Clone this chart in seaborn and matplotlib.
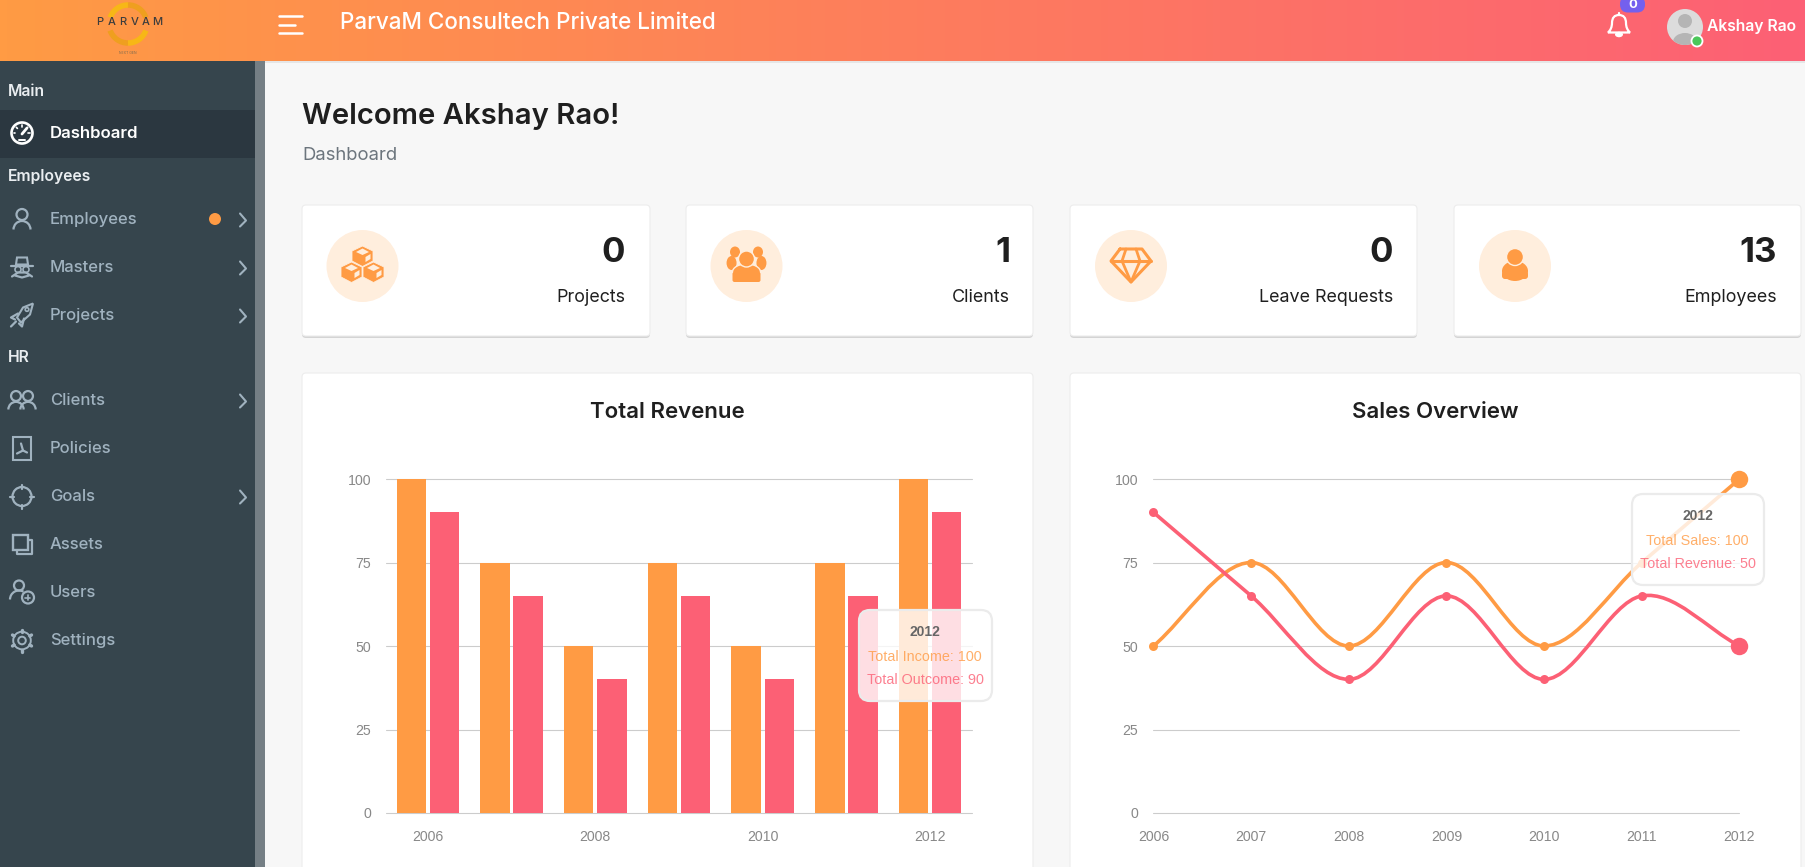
import matplotlib
matplotlib.use("Agg")
import matplotlib.pyplot as plt
import numpy as np
import pandas as pd
import seaborn as sns
from matplotlib.patches import Arc, Circle, Ellipse, FancyBboxPatch, PathPatch, Polygon, Rectangle
from matplotlib.path import Path

sns.set_theme(style="white")
plt.rcParams["font.family"] = ["Inter", "DejaVu Sans"]
plt.rcParams["patch.force_edgecolor"] = False

ORANGE = "#ff9b44"
PINK = "#fc6075"
SIDEBAR = "#36454d"
NAV_TEXT = "#a0b2bf"
ICON_BG = "#ffeedd"
W, H = 1806, 867

# chart data
years = ["2006", "2007", "2008", "2009", "2010", "2011", "2012"]
income = [100, 75, 50, 75, 50, 75, 100]
outcome = [90, 65, 40, 65, 40, 65, 90]
sales = [50, 75, 50, 75, 50, 75, 100]
revenue = [90, 65, 40, 65, 40, 65, 50]
y_ticks = [0, 25, 50, 75, 100]

# page text
company = "ParvaM Consultech Private Limited"
user_name = "Akshay Rao"
card_labels = ["Projects", "Clients", "Leave Requests", "Employees"]
card_counts = ["0", "1", "0", "13"]
nav_headers = [("Main", 92), ("Employees", 177), ("HR", 358)]
nav_items = ["Employees", "Masters", "Projects", "Clients", "Policies", "Goals", "Assets", "Users", "Settings"]
nav_rows = [219.5, 267.5, 315.5, 400.5, 448.5, 496.5, 544.5, 592.5, 640.5]
nav_chevrons = ["Employees", "Masters", "Projects", "Clients", "Goals"]


def rbox(ax, x0, y0, x1, y1, r, fc, ec="none", lw=0, z=2, alpha=None):
    box = FancyBboxPatch((x0 + r, y0 + r), x1 - x0 - 2 * r, y1 - y0 - 2 * r,
                         boxstyle=f"round,pad={r},rounding_size={r}",
                         fc=fc, ec=ec, lw=lw, zorder=z, alpha=alpha)
    ax.add_patch(box)


def seg(ax, xs, ys, color, lw=1.6, z=4):
    ax.plot(xs, ys, color=color, lw=lw, solid_capstyle="round", solid_joinstyle="round", zorder=z)


def ring(ax, x, y, r, color, lw=1.6, z=4):
    ax.add_patch(Circle((x, y), r, fc="none", ec=color, lw=lw, zorder=z))


def arc(ax, x, y, w, h, t0, t1, color, lw=1.6, z=4):
    ax.add_patch(Arc((x, y), w, h, theta1=t0, theta2=t1, ec=color, lw=lw, zorder=z))


def person(ax, x, y, color, s=1.0):
    ring(ax, x, y - 5 * s, 5.5 * s, color)
    arc(ax, x, y + 10 * s, 17 * s, 17 * s, 180, 360, color)


def nav_icon(ax, name, x, y, color):
    if name == "Employees":
        person(ax, x, y, color)
    elif name == "Masters":
        ax.add_patch(Polygon([[x - 6, y - 3], [x - 5, y - 10], [x + 5, y - 10], [x + 6, y - 3]],
                             fc="none", ec=color, lw=1.5, zorder=4))
        seg(ax, [x - 11, x + 11], [y - 2, y - 2], color)
        ring(ax, x - 4, y + 2, 3, color, 1.2)
        ring(ax, x + 4, y + 2, 3, color, 1.2)
        seg(ax, [x - 10, x - 4, x + 4, x + 10], [y + 9, y + 5, y + 5, y + 9], color)
        seg(ax, [x - 7, x, x + 7], [y + 8, y + 10, y + 8], color)
    elif name == "Projects":
        ax.add_patch(Polygon([[x - 5, y + 2], [x + 1, y - 8], [x + 11, y - 12], [x + 8, y - 1], [x - 1, y + 7]],
                             fc="none", ec=color, lw=1.5, zorder=4))
        seg(ax, [x - 4, x - 11, x - 7], [y - 2, y + 2, y + 4], color)
        seg(ax, [x + 2, x, x - 3], [y + 3, y + 11, y + 8], color)
        seg(ax, [x - 6, x - 11], [y + 6, y + 11], color)
        ring(ax, x + 5, y - 6, 1.8, color, 1.2)
    elif name == "Clients":
        person(ax, x - 6, y, color, 0.9)
        person(ax, x + 6, y, color, 0.9)
    elif name == "Policies":
        ax.add_patch(Rectangle((x - 9, y - 12), 18, 23, fc="none", ec=color, lw=1.5, zorder=4))
        seg(ax, [x - 1, x + 1, x + 5], [y - 5, y + 2, y + 4], color)
        seg(ax, [x - 5, x + 1], [y + 5, y + 2], color)
    elif name == "Goals":
        ring(ax, x, y, 9.5, color)
        for dx, dy in [(0, -1), (0, 1), (-1, 0), (1, 0)]:
            seg(ax, [x + dx * 8, x + dx * 12], [y + dy * 8, y + dy * 12], color)
    elif name == "Assets":
        ax.add_patch(Rectangle((x - 9, y - 10), 15, 15, fc="none", ec=color, lw=1.7, zorder=4))
        seg(ax, [x + 6, x + 10, x + 10, x - 5, x - 5], [y - 5, y - 5, y + 9, y + 9, y + 5], color)
    elif name == "Users":
        ring(ax, x - 3, y - 7, 5, color)
        arc(ax, x - 3, y + 7, 18, 18, 180, 300, color)
        ring(ax, x + 6, y + 5, 6, color)
        seg(ax, [x + 3.5, x + 8.5], [y + 5, y + 5], color, 1.2)
        seg(ax, [x + 6, x + 6], [y + 2.5, y + 7.5], color, 1.2)
    elif name == "Settings":
        ring(ax, x, y, 3.8, color, 1.4)
        ring(ax, x, y, 8.8, color, 1.4)
        for a in np.deg2rad(np.arange(0, 360, 60) + 30):
            seg(ax, [x + 9 * np.cos(a), x + 11 * np.cos(a)], [y + 9 * np.sin(a), y + 11 * np.sin(a)], color, 2.4)


def card_icon(ax, i, x, y):
    if i == 0:
        for dx, dy in [(0, -10), (-11, 6), (11, 6)]:
            hexa = [[x + dx, y + dy - 10], [x + dx + 10.5, y + dy - 5], [x + dx + 10.5, y + dy + 5],
                    [x + dx, y + dy + 10.5], [x + dx - 10.5, y + dy + 5], [x + dx - 10.5, y + dy - 5]]
            ax.add_patch(Polygon(hexa, fc=ORANGE, ec=ICON_BG, lw=0.6, zorder=4))
            top = [[x + dx, y + dy - 7.5], [x + dx + 6.5, y + dy - 4], [x + dx, y + dy - 1], [x + dx - 6.5, y + dy - 4]]
            ax.add_patch(Polygon(top, fc=ICON_BG, zorder=5))
            ax.add_patch(Polygon([[x + dx + 3, y + dy + 1], [x + dx + 8, y + dy - 2], [x + dx + 8, y + dy + 3],
                                  [x + dx + 3, y + dy + 6]], fc=ICON_BG, zorder=5))
    elif i == 1:
        for dx in (-11.5, 11.5):
            ax.add_patch(Ellipse((x + dx, y - 14), 10, 11, fc=ORANGE, zorder=4))
            ax.add_patch(Ellipse((x + dx * 1.3, y - 3), 10, 14, fc=ORANGE, zorder=4))
        ax.add_patch(Ellipse((x, y + 6), 28, 16, fc=ORANGE, ec=ICON_BG, lw=1, zorder=5))
        rbox(ax, x - 14, y + 6, x + 14, y + 16, 2, ORANGE, z=5)
        ax.add_patch(Ellipse((x, y - 7), 16, 16, fc=ORANGE, ec=ICON_BG, lw=1, zorder=6))
    elif i == 2:
        c = ORANGE
        seg(ax, [x - 11, x + 11, x + 20, x, x - 20, x - 11], [y - 17, y - 17, y - 5, y + 16, y - 5, y - 17], c, 2.2)
        seg(ax, [x - 20, x + 20], [y - 5, y - 5], c, 2.2)
        seg(ax, [x - 5, x - 9, x, x + 9, x + 5], [y - 17, y - 5, y + 16, y - 5, y - 17], c, 2.0)
    else:
        ax.add_patch(Ellipse((x, y + 5), 26, 20, fc=ORANGE, zorder=4))
        rbox(ax, x - 13, y + 5, x + 13, y + 13, 3, ORANGE, z=4)
        ax.add_patch(Ellipse((x, y - 9), 17, 17, fc=ORANGE, ec=ICON_BG, lw=1, zorder=5))


def smooth_path(xs, ys):
    # same hermite smoothing the dashboard chart uses, through the data points only
    n = len(xs)
    grad = [(ys[min(i + 1, n - 1)] - ys[max(i - 1, 0)]) / (xs[min(i + 1, n - 1)] - xs[max(i - 1, 0)]) for i in range(n)]
    verts = [(xs[0], ys[0])]
    codes = [Path.MOVETO]
    for i in range(n - 1):
        d = (xs[i + 1] - xs[i]) / 3
        verts += [(xs[i] + d, ys[i] + grad[i] * d), (xs[i + 1] - d, ys[i + 1] - grad[i + 1] * d), (xs[i + 1], ys[i + 1])]
        codes += [Path.CURVE4] * 3
    return Path(verts, codes)


def tooltip(ax, x0, y0, x1, y1, head, rows):
    rbox(ax, x0, y0, x1, y1, 11, (1, 1, 1, 0.8), "#ebebeb", 1.6, 10)
    cx = (x0 + x1) / 2 - 0.5
    ax.text(cx, y0 + 22, head, ha="center", va="center", fontsize=10, fontweight="bold", color="#666666",
            family="Liberation Sans", zorder=11)
    for k, (label, color) in enumerate(rows):
        ax.text(cx, y0 + 47 + k * 23.5, label, ha="center", va="center", fontsize=10.4, color=color, alpha=0.8,
                family="Liberation Sans", zorder=11)


def style_axes(ax, ypad):
    ax.set_ylim(0, 100)
    ax.set_yticks(y_ticks)
    ax.grid(axis="y", color="#cccccc", lw=0.8, clip_on=False)
    ax.grid(axis="x", visible=False)
    ax.set_axisbelow(True)
    ax.patch.set_alpha(0)
    sns.despine(ax=ax, left=True, bottom=True)
    ax.set_xlabel("")
    ax.set_ylabel("")
    ax.tick_params(axis="both", length=0, labelsize=10.2, labelcolor="#888888")
    ax.tick_params(axis="y", pad=ypad)
    ax.tick_params(axis="x", pad=12)
    for t in ax.get_xticklabels() + ax.get_yticklabels():
        t.set_fontfamily("Liberation Sans")


fig = plt.figure(figsize=(W / 100, H / 100), dpi=100, facecolor="#f7f7f7")
page = fig.add_axes([0, 0, 1, 1], zorder=0)
page.set_xlim(0, W)
page.set_ylim(H, 0)
page.axis("off")

# header gradient
grad = np.linspace(0, 1, 256).reshape(1, -1)
cmap = matplotlib.colors.LinearSegmentedColormap.from_list("hdr", [ORANGE, PINK])
page.imshow(grad, extent=(0, W, 61, 0), aspect="auto", cmap=cmap, zorder=1)
page.set_xlim(0, W)
page.set_ylim(H, 0)
page.add_patch(Rectangle((0, 61), W, 1.5, fc="#e6e6e6", zorder=1))

# logo
arc(page, 128, 24, 38, 38, 200, 270, "#f7b716", 4)
arc(page, 128, 24, 38, 38, 270, 340, "#ef9f1f", 4)
arc(page, 128, 24, 38, 38, 90, 160, "#ef9f1f", 4)
arc(page, 128, 24, 38, 38, 20, 90, "#f7b716", 4)
for ch, lx in zip("PARVAM", [100, 112, 123, 135, 146, 157]):
    page.text(lx, 22, ch, ha="center", va="center", fontsize=8, color="#3d3d3d", fontweight="medium", zorder=5)
page.text(128, 53, "NEXT GEN", ha="center", va="center", fontsize=2.5, color="#7a6a50", zorder=5)

# hamburger and title
seg(page, [279, 302], [16, 16], "white", 1.8)
seg(page, [279, 295], [24.5, 24.5], "white", 1.8)
seg(page, [279, 302], [33, 33], "white", 1.8)
page.text(340, 23, company, ha="left", va="center", fontsize=16.2, fontweight="medium", color="white", zorder=5)

# bell, badge, avatar
bx, by = 1619, 26
bell_pts = [(-11, 6.5), (-7, 3), (-7, -3), (-7, -11), (0, -11), (7, -11), (7, -3), (7, 3), (11, 6.5), (-11, 6.5)]
bell_codes = [Path.MOVETO] + [Path.CURVE3] * 8 + [Path.CLOSEPOLY]
page.add_patch(PathPatch(Path([(bx + px, by + py) for px, py in bell_pts], bell_codes), fc="none", ec="white", lw=1.6, zorder=5))
page.add_patch(Ellipse((bx, by + 8.5), 8, 5.5, fc="white", zorder=5))
seg(page, [bx, bx], [by - 13, by - 11], "white", 1.6, 5)
rbox(page, 1620, -4, 1645, 12.5, 8, "#7460ee", z=6)
page.text(1632.5, 5.5, "0", ha="center", va="center", fontsize=9.5, fontweight="bold", color="white", zorder=7)
page.add_patch(Circle((1685, 27), 18, fc="#dcdcdc", zorder=5))
page.add_patch(Circle((1685, 21), 7, fc="#b5b5b5", zorder=6))
avatar_body = Ellipse((1685, 42), 24, 18, fc="#b5b5b5", zorder=6)
page.add_patch(avatar_body)
avatar_body.set_clip_path(Circle((1685, 27), 18, transform=page.transData))
page.add_patch(Circle((1697, 41), 5.5, fc="#4cc75a", ec="white", lw=1.3, zorder=7))
page.text(1707, 26, user_name, ha="left", va="center", fontsize=11.3, fontweight="semibold", color="white", zorder=7)

# sidebar
page.add_patch(Rectangle((0, 61), 265, H - 61, fc=SIDEBAR, zorder=2))
page.add_patch(Rectangle((0, 110), 265, 48, fc="#2b3740", zorder=2))
page.add_patch(Rectangle((255, 61), 10, H - 61, fc="#757f85", zorder=3))
for label, y in nav_headers:
    page.text(8, y, label, ha="left", va="center", fontsize=11.3, fontweight="semibold", color="#e9edf0", zorder=5)
page.text(50, 133.5, "Dashboard", ha="left", va="center", fontsize=12, fontweight="semibold", color="white", zorder=5)
ring(page, 22, 133, 10.5, "white", 1.9, 5)
seg(page, [22, 27], [134, 128], "white", 2.0, 5)
for a in np.deg2rad([180, 225, 270, 315, 0]):
    seg(page, [22 + 6.5 * np.cos(a), 22 + 8 * np.cos(a)], [133 + 6.5 * np.sin(a), 133 + 8 * np.sin(a)], "white", 1.2, 5)
seg(page, [19, 25], [140, 140], "white", 1.4, 5)
for name, y in zip(nav_items, nav_rows):
    page.text(50, y, name, ha="left", va="center", fontsize=12, fontweight="medium", color=NAV_TEXT, zorder=5)
    nav_icon(page, name, 22, y, NAV_TEXT)
    if name in nav_chevrons:
        seg(page, [240, 246, 240], [y - 6, y + 1, y + 7], NAV_TEXT, 1.5)
page.add_patch(Circle((215, 219), 6, fc=ORANGE, zorder=5))

# heading
page.text(302, 117, "Welcome Akshay Rao!", ha="left", va="center", fontsize=21.1, fontweight="semibold", color="#1f1f1f", zorder=5)
page.text(302, 155, "Dashboard", ha="left", va="center", fontsize=13.3, color="#6c757d", zorder=5)

# stat cards
card_x = [(302, 650), (686, 1033), (1070, 1417), (1454, 1801)]
icon_x = [362.5, 746.5, 1131, 1515]
num_x = [625, 1010, 1393, 1777]
for i, (x0, x1) in enumerate(card_x):
    rbox(page, x0, 207, x1, 338, 4, "#d4d4d4", z=2)
    rbox(page, x0, 205, x1, 336, 4, "white", "#ededed", 0.8, z=2.5)
    page.add_patch(Circle((icon_x[i], 266), 36, fc=ICON_BG, zorder=3))
    card_icon(page, i, icon_x[i], 266)
    page.text(num_x[i], 252.5, card_counts[i], ha="right", va="center", fontsize=25, fontweight="bold", color="#1f1f1f", zorder=5)
    page.text(num_x[i], 297, card_labels[i], ha="right", va="center", fontsize=12.9, color="#1f1f1f", zorder=5)

# chart cards run off the bottom of the page
for (x0, x1), title in zip([(302, 1033), (1070, 1801)], ["Total Revenue", "Sales Overview"]):
    rbox(page, x0, 373, x1, H + 20, 4, "white", "#ededed", 0.8, z=2)
    page.text((x0 + x1) / 2, 412, title, ha="center", va="center", fontsize=16, fontweight="semibold", color="#1f1f1f", zorder=5)

# bar chart
bar_df = pd.DataFrame({
    "year": years * 2,
    "value": income + outcome,
    "series": ["Total Income"] * len(years) + ["Total Outcome"] * len(years),
})
ax1 = fig.add_axes([386 / W, 1 - 813 / H, 586 / W, 334 / H], zorder=2)
sns.barplot(data=bar_df, x="year", y="value", hue="series", palette=[ORANGE, PINK], saturation=1,
            width=0.79, gap=0.112, legend=False, ax=ax1)
ax1.set_xlim(-0.5, 6.5)
ax1.set_xticks(range(len(years)))
ax1.set_xticklabels([y if i % 2 == 0 else "" for i, y in enumerate(years)])
style_axes(ax1, 10.5)

# line chart
ax2 = fig.add_axes([1153.5 / W, 1 - 813 / H, 586 / W, 334 / H], zorder=2)
pos = list(range(len(years)))
for vals, color in [(sales, ORANGE), (revenue, PINK)]:
    ax2.add_patch(PathPatch(smooth_path(pos, vals), fc="none", ec=color, lw=2.6, zorder=3, clip_on=False))
    sns.scatterplot(x=pos[:-1], y=vals[:-1], color=color, s=42, linewidth=0, zorder=4, clip_on=False, ax=ax2)
    sns.scatterplot(x=pos[-1:], y=vals[-1:], color=color, s=158, linewidth=0, zorder=4, clip_on=False, ax=ax2)
ax2.set_xlim(0, 6)
ax2.set_xticks(pos)
ax2.set_xticklabels(years)
style_axes(ax2, 11)

# tooltips on top of both charts
top = fig.add_axes([0, 0, 1, 1], zorder=5)
top.set_xlim(0, W)
top.set_ylim(H, 0)
top.axis("off")
tooltip(top, 859, 610, 992, 701, years[-1],
        [(f"Total Income: {income[-1]}", ORANGE), (f"Total Outcome: {outcome[-1]}", PINK)])
tooltip(top, 1632, 494, 1764, 585, years[-1],
        [(f"Total Sales: {sales[-1]}", ORANGE), (f"Total Revenue: {revenue[-1]}", PINK)])

fig.savefig("out.png", dpi=100)
